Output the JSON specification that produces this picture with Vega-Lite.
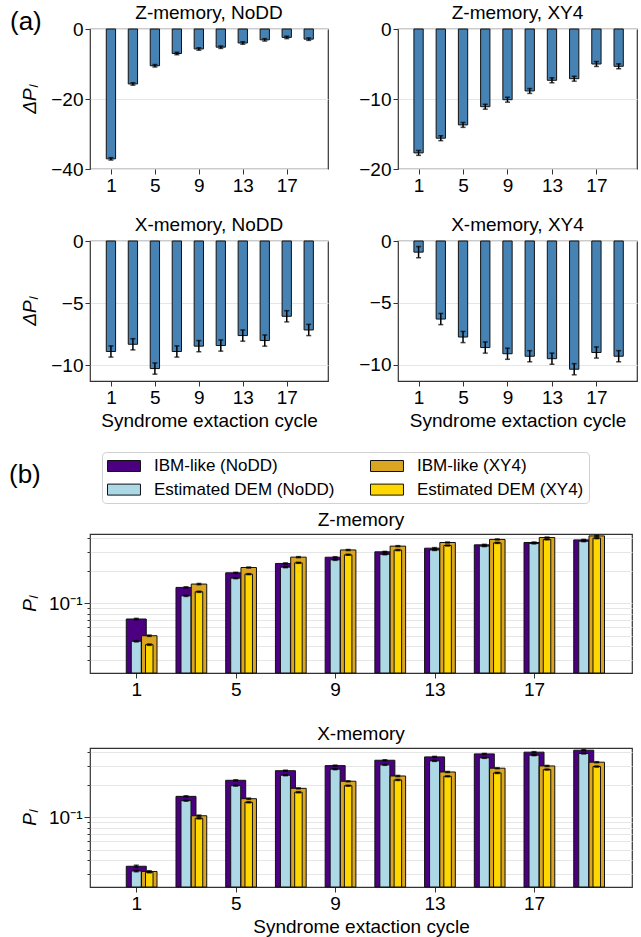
{
  "$schema": "https://vega.github.io/schema/vega-lite/v6.json",
  "background": "white",
  "padding": {"left": 9, "top": 3, "right": 2, "bottom": 2},
  "spacing": 30,
  "config": {
    "font": "Liberation Sans",
    "view": {"stroke": "#333333", "strokeWidth": 1.2},
    "axis": {"domain": false, "tickColor": "#333333", "tickSize": 5, "labelFontSize": 19, "labelColor": "black", "titleFontSize": 19, "titleFontWeight": "normal", "titleColor": "black", "labelPadding": 2, "gridColor": "#e6e6e6", "gridWidth": 1, "labelOverlap": false, "labelFlush": false},
    "axisX": {"grid": false, "labelAngle": 0},
    "axisY": {"titleFontStyle": "italic", "titlePadding": 11},
    "title": {"fontSize": 19, "fontWeight": "normal", "color": "black"}
  },
  "datasets": {
    "a": [
      {"panel": "ZN", "cycle": 1, "d": -37.1, "err": 0.35}, {"panel": "ZN", "cycle": 3, "d": -15.7, "err": 0.35}, {"panel": "ZN", "cycle": 5, "d": -10.5, "err": 0.35}, {"panel": "ZN", "cycle": 7, "d": -7.0, "err": 0.35}, {"panel": "ZN", "cycle": 9, "d": -5.7, "err": 0.35}, {"panel": "ZN", "cycle": 11, "d": -5.2, "err": 0.35}, {"panel": "ZN", "cycle": 13, "d": -4.0, "err": 0.35}, {"panel": "ZN", "cycle": 15, "d": -3.1, "err": 0.35}, {"panel": "ZN", "cycle": 17, "d": -2.4, "err": 0.35}, {"panel": "ZN", "cycle": 19, "d": -2.9, "err": 0.35},
      {"panel": "ZX", "cycle": 1, "d": -17.7, "err": 0.35}, {"panel": "ZX", "cycle": 3, "d": -15.6, "err": 0.35}, {"panel": "ZX", "cycle": 5, "d": -13.7, "err": 0.35}, {"panel": "ZX", "cycle": 7, "d": -11.1, "err": 0.35}, {"panel": "ZX", "cycle": 9, "d": -10.1, "err": 0.35}, {"panel": "ZX", "cycle": 11, "d": -8.85, "err": 0.35}, {"panel": "ZX", "cycle": 13, "d": -7.33, "err": 0.35}, {"panel": "ZX", "cycle": 15, "d": -7.1, "err": 0.35}, {"panel": "ZX", "cycle": 17, "d": -5.0, "err": 0.35}, {"panel": "ZX", "cycle": 19, "d": -5.33, "err": 0.35},
      {"panel": "XN", "cycle": 1, "d": -8.88, "err": 0.45}, {"panel": "XN", "cycle": 3, "d": -8.3, "err": 0.45}, {"panel": "XN", "cycle": 5, "d": -10.25, "err": 0.45}, {"panel": "XN", "cycle": 7, "d": -8.88, "err": 0.45}, {"panel": "XN", "cycle": 9, "d": -8.45, "err": 0.45}, {"panel": "XN", "cycle": 11, "d": -8.4, "err": 0.45}, {"panel": "XN", "cycle": 13, "d": -7.6, "err": 0.45}, {"panel": "XN", "cycle": 15, "d": -8.0, "err": 0.45}, {"panel": "XN", "cycle": 17, "d": -6.05, "err": 0.45}, {"panel": "XN", "cycle": 19, "d": -7.15, "err": 0.45},
      {"panel": "XX", "cycle": 1, "d": -0.9, "err": 0.45}, {"panel": "XX", "cycle": 3, "d": -6.3, "err": 0.45}, {"panel": "XX", "cycle": 5, "d": -7.75, "err": 0.45}, {"panel": "XX", "cycle": 7, "d": -8.6, "err": 0.45}, {"panel": "XX", "cycle": 9, "d": -9.1, "err": 0.45}, {"panel": "XX", "cycle": 11, "d": -9.3, "err": 0.45}, {"panel": "XX", "cycle": 13, "d": -9.5, "err": 0.45}, {"panel": "XX", "cycle": 15, "d": -10.35, "err": 0.45}, {"panel": "XX", "cycle": 17, "d": -9.0, "err": 0.45}, {"panel": "XX", "cycle": 19, "d": -9.3, "err": 0.45}
    ],
    "b": [
      {"m": "Z", "s": "IBM-like (NoDD)", "cycle": 1, "p": 0.0716, "e": 0.001}, {"m": "Z", "s": "IBM-like (NoDD)", "cycle": 3, "p": 0.1406, "e": 0.002}, {"m": "Z", "s": "IBM-like (NoDD)", "cycle": 5, "p": 0.192, "e": 0.002}, {"m": "Z", "s": "IBM-like (NoDD)", "cycle": 7, "p": 0.2345, "e": 0.003}, {"m": "Z", "s": "IBM-like (NoDD)", "cycle": 9, "p": 0.268, "e": 0.003}, {"m": "Z", "s": "IBM-like (NoDD)", "cycle": 11, "p": 0.3006, "e": 0.003}, {"m": "Z", "s": "IBM-like (NoDD)", "cycle": 13, "p": 0.325, "e": 0.004}, {"m": "Z", "s": "IBM-like (NoDD)", "cycle": 15, "p": 0.349, "e": 0.004}, {"m": "Z", "s": "IBM-like (NoDD)", "cycle": 17, "p": 0.367, "e": 0.004}, {"m": "Z", "s": "IBM-like (NoDD)", "cycle": 19, "p": 0.388, "e": 0.004},
      {"m": "Z", "s": "Estimated DEM (NoDD)", "cycle": 1, "p": 0.0445, "e": 0.0006}, {"m": "Z", "s": "Estimated DEM (NoDD)", "cycle": 3, "p": 0.1175, "e": 0.0015}, {"m": "Z", "s": "Estimated DEM (NoDD)", "cycle": 5, "p": 0.1714, "e": 0.002}, {"m": "Z", "s": "Estimated DEM (NoDD)", "cycle": 7, "p": 0.2168, "e": 0.0025}, {"m": "Z", "s": "Estimated DEM (NoDD)", "cycle": 9, "p": 0.2536, "e": 0.003}, {"m": "Z", "s": "Estimated DEM (NoDD)", "cycle": 11, "p": 0.2855, "e": 0.003}, {"m": "Z", "s": "Estimated DEM (NoDD)", "cycle": 13, "p": 0.313, "e": 0.0035}, {"m": "Z", "s": "Estimated DEM (NoDD)", "cycle": 15, "p": 0.3397, "e": 0.0035}, {"m": "Z", "s": "Estimated DEM (NoDD)", "cycle": 17, "p": 0.36, "e": 0.004}, {"m": "Z", "s": "Estimated DEM (NoDD)", "cycle": 19, "p": 0.3776, "e": 0.004},
      {"m": "Z", "s": "IBM-like (XY4)", "cycle": 1, "p": 0.0501, "e": 0.0007}, {"m": "Z", "s": "IBM-like (XY4)", "cycle": 3, "p": 0.151, "e": 0.002}, {"m": "Z", "s": "IBM-like (XY4)", "cycle": 5, "p": 0.215, "e": 0.0025}, {"m": "Z", "s": "IBM-like (XY4)", "cycle": 7, "p": 0.2685, "e": 0.003}, {"m": "Z", "s": "IBM-like (XY4)", "cycle": 9, "p": 0.313, "e": 0.0035}, {"m": "Z", "s": "IBM-like (XY4)", "cycle": 11, "p": 0.3397, "e": 0.0035}, {"m": "Z", "s": "IBM-like (XY4)", "cycle": 13, "p": 0.367, "e": 0.004}, {"m": "Z", "s": "IBM-like (XY4)", "cycle": 15, "p": 0.392, "e": 0.004}, {"m": "Z", "s": "IBM-like (XY4)", "cycle": 17, "p": 0.408, "e": 0.0045}, {"m": "Z", "s": "IBM-like (XY4)", "cycle": 19, "p": 0.4226, "e": 0.0045},
      {"m": "Z", "s": "Estimated DEM (XY4)", "cycle": 1, "p": 0.0414, "e": 0.0006}, {"m": "Z", "s": "Estimated DEM (XY4)", "cycle": 3, "p": 0.128, "e": 0.0015}, {"m": "Z", "s": "Estimated DEM (XY4)", "cycle": 5, "p": 0.1867, "e": 0.002}, {"m": "Z", "s": "Estimated DEM (XY4)", "cycle": 7, "p": 0.2377, "e": 0.0025}, {"m": "Z", "s": "Estimated DEM (XY4)", "cycle": 9, "p": 0.2818, "e": 0.003}, {"m": "Z", "s": "Estimated DEM (XY4)", "cycle": 11, "p": 0.312, "e": 0.0035}, {"m": "Z", "s": "Estimated DEM (XY4)", "cycle": 13, "p": 0.344, "e": 0.0035}, {"m": "Z", "s": "Estimated DEM (XY4)", "cycle": 15, "p": 0.364, "e": 0.004}, {"m": "Z", "s": "Estimated DEM (XY4)", "cycle": 17, "p": 0.392, "e": 0.004}, {"m": "Z", "s": "Estimated DEM (XY4)", "cycle": 19, "p": 0.4027, "e": 0.0045},
      {"m": "X", "s": "IBM-like (NoDD)", "cycle": 1, "p": 0.0352, "e": 0.0008}, {"m": "X", "s": "IBM-like (NoDD)", "cycle": 3, "p": 0.1566, "e": 0.002}, {"m": "X", "s": "IBM-like (NoDD)", "cycle": 5, "p": 0.2208, "e": 0.0025}, {"m": "X", "s": "IBM-like (NoDD)", "cycle": 7, "p": 0.271, "e": 0.003}, {"m": "X", "s": "IBM-like (NoDD)", "cycle": 9, "p": 0.302, "e": 0.0035}, {"m": "X", "s": "IBM-like (NoDD)", "cycle": 11, "p": 0.3388, "e": 0.0035}, {"m": "X", "s": "IBM-like (NoDD)", "cycle": 13, "p": 0.364, "e": 0.004}, {"m": "X", "s": "IBM-like (NoDD)", "cycle": 15, "p": 0.388, "e": 0.004}, {"m": "X", "s": "IBM-like (NoDD)", "cycle": 17, "p": 0.4025, "e": 0.0045}, {"m": "X", "s": "IBM-like (NoDD)", "cycle": 19, "p": 0.42, "e": 0.0045},
      {"m": "X", "s": "Estimated DEM (NoDD)", "cycle": 1, "p": 0.0318, "e": 0.0005}, {"m": "X", "s": "Estimated DEM (NoDD)", "cycle": 3, "p": 0.1428, "e": 0.0015}, {"m": "X", "s": "Estimated DEM (NoDD)", "cycle": 5, "p": 0.1968, "e": 0.002}, {"m": "X", "s": "Estimated DEM (NoDD)", "cycle": 7, "p": 0.246, "e": 0.0025}, {"m": "X", "s": "Estimated DEM (NoDD)", "cycle": 9, "p": 0.28, "e": 0.003}, {"m": "X", "s": "Estimated DEM (NoDD)", "cycle": 11, "p": 0.3069, "e": 0.003}, {"m": "X", "s": "Estimated DEM (NoDD)", "cycle": 13, "p": 0.334, "e": 0.0035}, {"m": "X", "s": "Estimated DEM (NoDD)", "cycle": 15, "p": 0.3563, "e": 0.0035}, {"m": "X", "s": "Estimated DEM (NoDD)", "cycle": 17, "p": 0.3776, "e": 0.004}, {"m": "X", "s": "Estimated DEM (NoDD)", "cycle": 19, "p": 0.391, "e": 0.004},
      {"m": "X", "s": "IBM-like (XY4)", "cycle": 1, "p": 0.0315, "e": 0.0005}, {"m": "X", "s": "IBM-like (XY4)", "cycle": 3, "p": 0.1035, "e": 0.0015}, {"m": "X", "s": "IBM-like (XY4)", "cycle": 5, "p": 0.149, "e": 0.002}, {"m": "X", "s": "IBM-like (XY4)", "cycle": 7, "p": 0.186, "e": 0.002}, {"m": "X", "s": "IBM-like (XY4)", "cycle": 9, "p": 0.2163, "e": 0.0025}, {"m": "X", "s": "IBM-like (XY4)", "cycle": 11, "p": 0.242, "e": 0.003}, {"m": "X", "s": "IBM-like (XY4)", "cycle": 13, "p": 0.2636, "e": 0.003}, {"m": "X", "s": "IBM-like (XY4)", "cycle": 15, "p": 0.2858, "e": 0.003}, {"m": "X", "s": "IBM-like (XY4)", "cycle": 17, "p": 0.2999, "e": 0.0035}, {"m": "X", "s": "IBM-like (XY4)", "cycle": 19, "p": 0.325, "e": 0.0035},
      {"m": "X", "s": "Estimated DEM (XY4)", "cycle": 1, "p": 0.031, "e": 0.0004}, {"m": "X", "s": "Estimated DEM (XY4)", "cycle": 3, "p": 0.098, "e": 0.0012}, {"m": "X", "s": "Estimated DEM (XY4)", "cycle": 5, "p": 0.138, "e": 0.0015}, {"m": "X", "s": "Estimated DEM (XY4)", "cycle": 7, "p": 0.171, "e": 0.002}, {"m": "X", "s": "Estimated DEM (XY4)", "cycle": 9, "p": 0.1968, "e": 0.002}, {"m": "X", "s": "Estimated DEM (XY4)", "cycle": 11, "p": 0.2223, "e": 0.0025}, {"m": "X", "s": "Estimated DEM (XY4)", "cycle": 13, "p": 0.2404, "e": 0.0025}, {"m": "X", "s": "Estimated DEM (XY4)", "cycle": 15, "p": 0.2584, "e": 0.003}, {"m": "X", "s": "Estimated DEM (XY4)", "cycle": 17, "p": 0.2775, "e": 0.003}, {"m": "X", "s": "Estimated DEM (XY4)", "cycle": 19, "p": 0.296, "e": 0.0035}
    ]
  },
  "vconcat": [
    {
      "title": {"text": "(a)", "anchor": "start", "frame": "group", "fontSize": 26, "offset": 0, "baseline": "top", "dx": -80, "dy": 32},
      "align": "each",
      "columns": 2,
      "spacing": {"row": 19, "column": 29},
      "concat": [
        {
          "title": {"text": "Z-memory, NoDD", "offset": -3},
          "width": 238, "height": 140,
          "data": {"name": "a"},
          "transform": [{"filter": "datum.panel === 'ZN'"}],
          "encoding": {
            "x": {"field": "cycle", "type": "quantitative", "scale": {"domain": [-0.45, 20.3], "nice": false, "zero": false}, "axis": {"values": [1, 5, 9, 13, 17], "title": null}},
            "y": {"field": "d", "type": "quantitative", "title": "ΔPₗ", "scale": {"domain": [-40, 0], "nice": false}, "axis": {"values": [-40, -20, 0]}}
          },
          "layer": [
            {"mark": {"type": "bar", "width": 9.3, "fill": "#4682b4", "stroke": "#111111", "strokeWidth": 1}},
            {"mark": {"type": "errorbar", "color": "black", "thickness": 1.5, "ticks": {"size": 5, "thickness": 1.5, "color": "black"}}, "encoding": {"yError": {"field": "err"}}}
          ]
        },
        {
          "title": {"text": "Z-memory, XY4", "offset": -3},
          "width": 239, "height": 140,
          "data": {"name": "a"},
          "transform": [{"filter": "datum.panel === 'ZX'"}],
          "encoding": {
            "x": {"field": "cycle", "type": "quantitative", "scale": {"domain": [-0.4, 20.2], "nice": false, "zero": false}, "axis": {"values": [1, 5, 9, 13, 17], "title": null}},
            "y": {"field": "d", "type": "quantitative", "title": null, "scale": {"domain": [-20, 0], "nice": false}, "axis": {"values": [-20, -10, 0]}}
          },
          "layer": [
            {"mark": {"type": "bar", "width": 9.3, "fill": "#4682b4", "stroke": "#111111", "strokeWidth": 1}},
            {"mark": {"type": "errorbar", "color": "black", "thickness": 1.5, "ticks": {"size": 5, "thickness": 1.5, "color": "black"}}, "encoding": {"yError": {"field": "err"}}}
          ]
        },
        {
          "title": {"text": "X-memory, NoDD", "offset": -3},
          "width": 238, "height": 140,
          "data": {"name": "a"},
          "transform": [{"filter": "datum.panel === 'XN'"}],
          "encoding": {
            "x": {"field": "cycle", "type": "quantitative", "title": "Syndrome extaction cycle", "scale": {"domain": [-0.45, 20.3], "nice": false, "zero": false}, "axis": {"values": [1, 5, 9, 13, 17]}},
            "y": {"field": "d", "type": "quantitative", "title": "ΔPₗ", "scale": {"domain": [-11.25, 0], "nice": false}, "axis": {"values": [-10, -5, 0]}}
          },
          "layer": [
            {"mark": {"type": "bar", "width": 9.3, "fill": "#4682b4", "stroke": "#111111", "strokeWidth": 1}},
            {"mark": {"type": "errorbar", "color": "black", "thickness": 1.5, "ticks": {"size": 5, "thickness": 1.5, "color": "black"}}, "encoding": {"yError": {"field": "err"}}}
          ]
        },
        {
          "title": {"text": "X-memory, XY4", "offset": -3},
          "width": 239, "height": 140,
          "data": {"name": "a"},
          "transform": [{"filter": "datum.panel === 'XX'"}],
          "encoding": {
            "x": {"field": "cycle", "type": "quantitative", "title": "Syndrome extaction cycle", "scale": {"domain": [-0.4, 20.2], "nice": false, "zero": false}, "axis": {"values": [1, 5, 9, 13, 17]}},
            "y": {"field": "d", "type": "quantitative", "title": null, "scale": {"domain": [-11.3, 0], "nice": false}, "axis": {"values": [-10, -5, 0]}}
          },
          "layer": [
            {"mark": {"type": "bar", "width": 9.3, "fill": "#4682b4", "stroke": "#111111", "strokeWidth": 1}},
            {"mark": {"type": "errorbar", "color": "black", "thickness": 1.5, "ticks": {"size": 5, "thickness": 1.5, "color": "black"}}, "encoding": {"yError": {"field": "err"}}}
          ]
        }
      ]
    },
    {
      "title": {"text": "(b)", "anchor": "start", "frame": "group", "fontSize": 26, "offset": 0, "baseline": "top", "dx": -81, "dy": -23},
      "spacing": 24,
      "vconcat": [
        {
          "title": {"text": "Z-memory", "offset": -1},
          "width": 542, "height": 139,
          "data": {"name": "b"},
          "transform": [{"filter": "datum.m === 'Z'"}],
          "encoding": {
            "x": {"field": "cycle", "type": "quantitative", "scale": {"domain": [-0.66, 20.74], "nice": false, "zero": false}, "axis": {"values": [1, 5, 9, 13, 17], "title": null}},
            "y": {"field": "p", "type": "quantitative", "title": "Pₗ", "scale": {"type": "log", "domain": [0.0226, 0.44], "nice": false}, "axis": {"values": [0.03, 0.04, 0.05, 0.06, 0.07, 0.08, 0.09, 0.1, 0.2, 0.3, 0.4], "labelExpr": "datum.value == 0.1 ? '10⁻¹' : ''", "labelPadding": 2, "titlePadding": 9, "tickSize": {"condition": {"test": "datum.value == 0.1", "value": 6}, "value": 3}}}
          },
          "layer": [
            {"transform": [{"filter": "datum.s === 'IBM-like (NoDD)'"}], "mark": {"type": "bar", "width": 20, "stroke": "#111111", "strokeWidth": 1}, "encoding": {"y2": {"datum": 0.0226}, "color": {"field": "s", "type": "nominal", "scale": {"domain": ["IBM-like (NoDD)", "Estimated DEM (NoDD)", "IBM-like (XY4)", "Estimated DEM (XY4)"], "range": ["#4b0082", "#add8e6", "#daa520", "#ffd700"]}, "legend": {"orient": "none", "legendX": 12, "legendY": 423, "columns": 2, "title": null, "symbolType": "M-1,-0.647L2.88,-0.647L2.88,0.647L-1,0.647Z", "symbolSize": 289, "symbolStrokeColor": "#111111", "symbolStrokeWidth": 1, "symbolOpacity": 1, "labelFontSize": 17, "labelColor": "black", "labelOffset": 29, "labelLimit": 0, "columnPadding": 33, "rowPadding": 6.6, "padding": 5, "fillColor": "white", "strokeColor": "#d0d0d0", "cornerRadius": 4}}}},
            {"transform": [{"filter": "datum.s === 'IBM-like (NoDD)'"}], "mark": {"type": "errorbar", "color": "black", "thickness": 1.5, "ticks": {"size": 5, "thickness": 1.5, "color": "black"}}, "encoding": {"yError": {"field": "e"}}},
            {"transform": [{"filter": "datum.s === 'Estimated DEM (NoDD)'"}], "mark": {"type": "bar", "width": 10, "stroke": "#111111", "strokeWidth": 1}, "encoding": {"y2": {"datum": 0.0226}, "color": {"field": "s", "type": "nominal"}}},
            {"transform": [{"filter": "datum.s === 'Estimated DEM (NoDD)'"}], "mark": {"type": "errorbar", "color": "black", "thickness": 1.5, "ticks": {"size": 5, "thickness": 1.5, "color": "black"}}, "encoding": {"yError": {"field": "e"}}},
            {"transform": [{"filter": "datum.s === 'IBM-like (XY4)'"}], "mark": {"type": "bar", "width": 15.5, "xOffset": 13, "stroke": "#111111", "strokeWidth": 1}, "encoding": {"y2": {"datum": 0.0226}, "color": {"field": "s", "type": "nominal"}}},
            {"transform": [{"filter": "datum.s === 'IBM-like (XY4)'"}], "mark": {"type": "errorbar", "color": "black", "thickness": 1.5, "rule": {"xOffset": 13}, "ticks": {"size": 5, "thickness": 1.5, "color": "black", "xOffset": 13}}, "encoding": {"yError": {"field": "e"}}},
            {"transform": [{"filter": "datum.s === 'Estimated DEM (XY4)'"}], "mark": {"type": "bar", "width": 7.5, "xOffset": 13, "stroke": "#111111", "strokeWidth": 1}, "encoding": {"y2": {"datum": 0.0226}, "color": {"field": "s", "type": "nominal"}}},
            {"transform": [{"filter": "datum.s === 'Estimated DEM (XY4)'"}], "mark": {"type": "errorbar", "color": "black", "thickness": 1.5, "rule": {"xOffset": 13}, "ticks": {"size": 5, "thickness": 1.5, "color": "black", "xOffset": 13}}, "encoding": {"yError": {"field": "e"}}}
          ]
        },
        {
          "title": {"text": "X-memory", "offset": -1},
          "width": 542, "height": 139,
          "data": {"name": "b"},
          "transform": [{"filter": "datum.m === 'X'"}],
          "encoding": {
            "x": {"field": "cycle", "type": "quantitative", "title": "Syndrome extaction cycle", "scale": {"domain": [-0.66, 20.74], "nice": false, "zero": false}, "axis": {"values": [1, 5, 9, 13, 17]}},
            "y": {"field": "p", "type": "quantitative", "title": "Pₗ", "scale": {"type": "log", "domain": [0.0226, 0.44], "nice": false}, "axis": {"values": [0.03, 0.04, 0.05, 0.06, 0.07, 0.08, 0.09, 0.1, 0.2, 0.3, 0.4], "labelExpr": "datum.value == 0.1 ? '10⁻¹' : ''", "labelPadding": 2, "titlePadding": 9, "tickSize": {"condition": {"test": "datum.value == 0.1", "value": 6}, "value": 3}}}
          },
          "layer": [
            {"transform": [{"filter": "datum.s === 'IBM-like (NoDD)'"}], "mark": {"type": "bar", "width": 20, "stroke": "#111111", "strokeWidth": 1}, "encoding": {"y2": {"datum": 0.0226}, "color": {"field": "s", "type": "nominal"}}},
            {"transform": [{"filter": "datum.s === 'IBM-like (NoDD)'"}], "mark": {"type": "errorbar", "color": "black", "thickness": 1.5, "ticks": {"size": 5, "thickness": 1.5, "color": "black"}}, "encoding": {"yError": {"field": "e"}}},
            {"transform": [{"filter": "datum.s === 'Estimated DEM (NoDD)'"}], "mark": {"type": "bar", "width": 10, "stroke": "#111111", "strokeWidth": 1}, "encoding": {"y2": {"datum": 0.0226}, "color": {"field": "s", "type": "nominal"}}},
            {"transform": [{"filter": "datum.s === 'Estimated DEM (NoDD)'"}], "mark": {"type": "errorbar", "color": "black", "thickness": 1.5, "ticks": {"size": 5, "thickness": 1.5, "color": "black"}}, "encoding": {"yError": {"field": "e"}}},
            {"transform": [{"filter": "datum.s === 'IBM-like (XY4)'"}], "mark": {"type": "bar", "width": 15.5, "xOffset": 13, "stroke": "#111111", "strokeWidth": 1}, "encoding": {"y2": {"datum": 0.0226}, "color": {"field": "s", "type": "nominal"}}},
            {"transform": [{"filter": "datum.s === 'IBM-like (XY4)'"}], "mark": {"type": "errorbar", "color": "black", "thickness": 1.5, "rule": {"xOffset": 13}, "ticks": {"size": 5, "thickness": 1.5, "color": "black", "xOffset": 13}}, "encoding": {"yError": {"field": "e"}}},
            {"transform": [{"filter": "datum.s === 'Estimated DEM (XY4)'"}], "mark": {"type": "bar", "width": 7.5, "xOffset": 13, "stroke": "#111111", "strokeWidth": 1}, "encoding": {"y2": {"datum": 0.0226}, "color": {"field": "s", "type": "nominal"}}},
            {"transform": [{"filter": "datum.s === 'Estimated DEM (XY4)'"}], "mark": {"type": "errorbar", "color": "black", "thickness": 1.5, "rule": {"xOffset": 13}, "ticks": {"size": 5, "thickness": 1.5, "color": "black", "xOffset": 13}}, "encoding": {"yError": {"field": "e"}}}
          ]
        }
      ]
    }
  ]
}
